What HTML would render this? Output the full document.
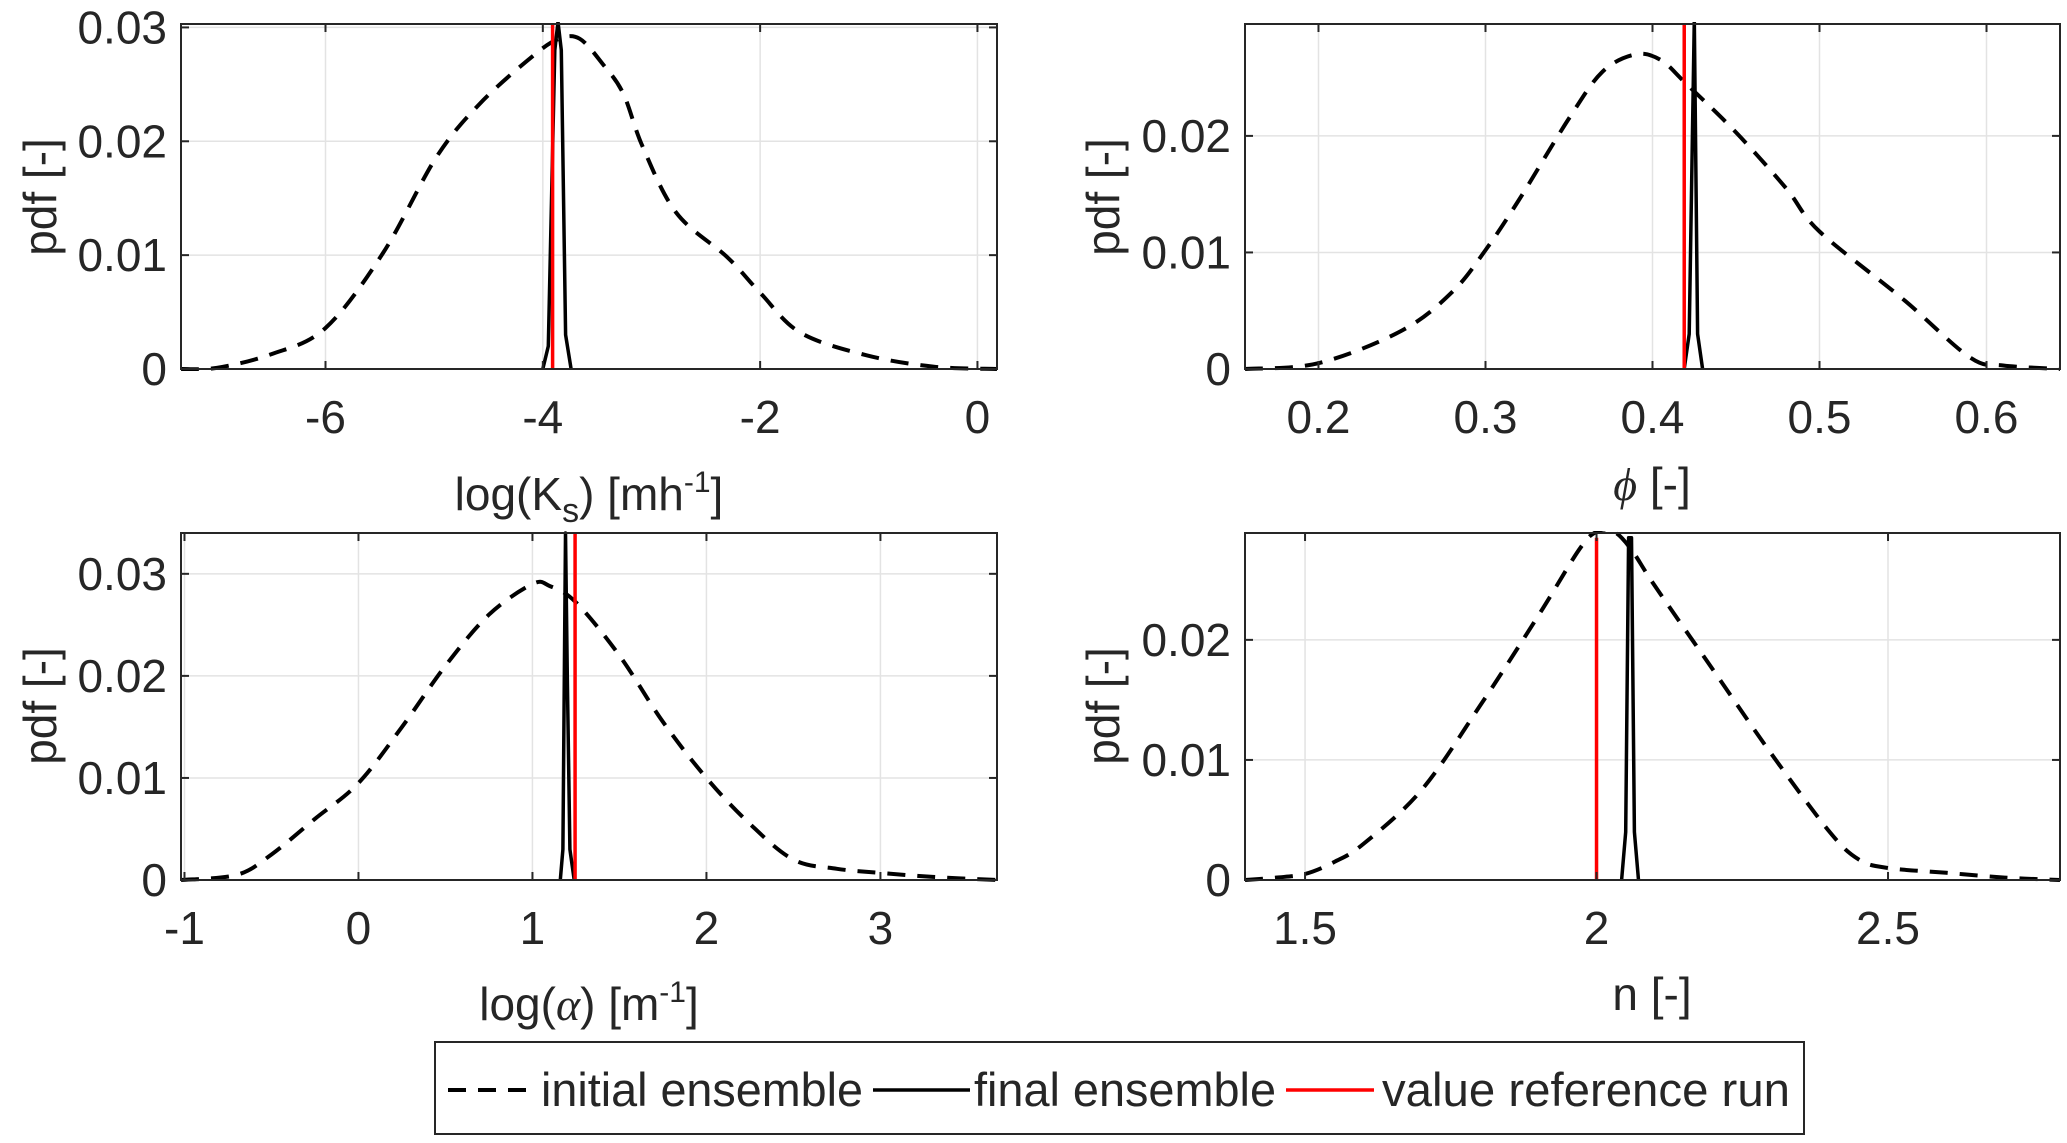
<!DOCTYPE html>
<html><head><meta charset="utf-8"><style>
html,body{margin:0;padding:0;background:#fff;}
svg{display:block;}
text{font-family:"Liberation Sans",sans-serif;fill:#262626;}
</style></head><body>
<svg id="s" width="2067" height="1143" viewBox="0 0 2067 1143" xmlns="http://www.w3.org/2000/svg">
<rect width="2067" height="1143" fill="#fff"/>
<g id="g"></g>
<text x="589" y="510" font-size="46" text-anchor="middle">log(K<tspan font-size="34" dy="12">s</tspan><tspan dy="-12">) [mh</tspan><tspan font-size="30" dy="-18">-1</tspan><tspan dy="18">]</tspan></text>
<text x="1652" y="500" font-size="46" text-anchor="middle"><tspan font-family="Liberation Serif" font-style="italic">ϕ</tspan> [-]</text>
<text x="589" y="1020" font-size="46" text-anchor="middle">log(<tspan font-family="Liberation Serif" font-style="italic">α</tspan>) [m<tspan font-size="30" dy="-18">-1</tspan><tspan dy="18">]</tspan></text>
<text x="1652" y="1010" font-size="46" text-anchor="middle">n [-]</text>
<text transform="translate(56,197) rotate(-90)" font-size="46" text-anchor="middle">pdf [-]</text>
<text transform="translate(1119,197) rotate(-90)" font-size="46" text-anchor="middle">pdf [-]</text>
<text transform="translate(56,706) rotate(-90)" font-size="46" text-anchor="middle">pdf [-]</text>
<text transform="translate(1119,706) rotate(-90)" font-size="46" text-anchor="middle">pdf [-]</text>
<rect x="435" y="1042" width="1369" height="92" fill="#fff" stroke="#262626" stroke-width="2"/>
<line x1="448" y1="1090" x2="537" y2="1090" stroke="#000" stroke-width="4" stroke-dasharray="18,12"/>
<text x="541" y="1106" font-size="47" textLength="322" lengthAdjust="spacingAndGlyphs">initial ensemble</text>
<line x1="873" y1="1090" x2="970" y2="1090" stroke="#000" stroke-width="3.5"/>
<text x="974" y="1106" font-size="47" textLength="302" lengthAdjust="spacingAndGlyphs">final ensemble</text>
<line x1="1286" y1="1090" x2="1374" y2="1090" stroke="#f00" stroke-width="3.5"/>
<text x="1382" y="1106" font-size="47" textLength="408" lengthAdjust="spacingAndGlyphs">value reference run</text>
</svg>
<script>
var NS="http://www.w3.org/2000/svg";var G=document.getElementById("g");
function el(t,a,p){var e=document.createElementNS(NS,t);for(var k in a)e.setAttribute(k,a[k]);(p||G).appendChild(e);return e;}
function path(pts){var d="M"+pts[0][0].toFixed(1)+","+pts[0][1].toFixed(1);
for(var i=0;i<pts.length-1;i++){var p0=pts[Math.max(i-1,0)],p1=pts[i],p2=pts[i+1],p3=pts[Math.min(i+2,pts.length-1)];
var c1=[p1[0]+(p2[0]-p0[0])/6,p1[1]+(p2[1]-p0[1])/6],c2=[p2[0]-(p3[0]-p1[0])/6,p2[1]-(p3[1]-p1[1])/6];
d+=" C"+c1[0].toFixed(1)+","+c1[1].toFixed(1)+" "+c2[0].toFixed(1)+","+c2[1].toFixed(1)+" "+p2[0].toFixed(1)+","+p2[1].toFixed(1);}return d;}
function plot(o){
var L=o.L,R=o.R,T=o.T,B=o.B;
var X=function(v){return L+(v-o.x0)/(o.x1-o.x0)*(R-L);};
var Y=function(v){return B-(v-0)/(o.y1)*(B-T);};
var cid="c"+L+"_"+T;var cp=el("clipPath",{id:cid});el("rect",{x:L,y:T-2,width:R-L,height:B-T+4},cp);
o.xt.forEach(function(v){var x=X(v);el("line",{x1:x,y1:T,x2:x,y2:B,stroke:"#e3e3e3","stroke-width":1.5});});
o.yt.forEach(function(v){var y=Y(v);if(v>0)el("line",{x1:L,y1:y,x2:R,y2:y,stroke:"#e3e3e3","stroke-width":1.5});});
var g=el("g",{"clip-path":"url(#"+cid+")"});
el("path",{d:path(o.d.map(function(p){return [X(p[0]),Y(p[1])];})),fill:"none",stroke:"#000","stroke-width":4,"stroke-dasharray":"18,12"},g);
el("path",{d:"M"+o.f.map(function(p){return X(p[0]).toFixed(1)+","+Y(p[1]).toFixed(1);}).join(" L"),fill:"none",stroke:"#000","stroke-width":3.5,"stroke-linejoin":"round"},g);
el("line",{x1:X(o.r),y1:B,x2:X(o.r),y2:Y(o.rt),stroke:"#f00","stroke-width":3.5},g);
el("rect",{x:L,y:T,width:R-L,height:B-T,fill:"none",stroke:"#262626","stroke-width":2});
o.xt.forEach(function(v){var x=X(v);el("line",{x1:x,y1:B,x2:x,y2:B-8,stroke:"#262626","stroke-width":2});el("line",{x1:x,y1:T,x2:x,y2:T+8,stroke:"#262626","stroke-width":2});
var t=el("text",{x:x,y:B+64,"font-size":46,"text-anchor":"middle"});t.textContent=o.xl(v);});
o.yt.forEach(function(v){var y=Y(v);el("line",{x1:L,y1:y,x2:L+8,y2:y,stroke:"#262626","stroke-width":2});el("line",{x1:R,y1:y,x2:R-8,y2:y,stroke:"#262626","stroke-width":2});
var t=el("text",{x:L-14,y:y+16,"font-size":46,"text-anchor":"end"});t.textContent=v==0?"0":v.toFixed(2);});
}
plot({L:181,R:997,T:24,B:369,x0:-7.33,x1:0.18,y1:0.0303,xt:[-6,-4,-2,0],yt:[0,0.01,0.02,0.03],xl:function(v){return String(v);},
d:[[-7.33,0],[-7,0.0001],[-6.5,0.0013],[-6,0.0036],[-5.47,0.0102],[-4.98,0.0186],[-4.58,0.0233],[-4.09,0.0275],[-3.85,0.029],[-3.66,0.029],[-3.45,0.0268],[-3.26,0.0242],[-3.08,0.0195],[-2.77,0.0137],[-2.3,0.0098],[-2.0,0.0067],[-1.63,0.0032],[-1.02,0.0012],[-0.4,0.0002],[0.18,0]],
f:[[-4.0,0],[-3.95,0.002],[-3.89,0.028],[-3.86,0.0305],[-3.83,0.028],[-3.79,0.003],[-3.74,0]],r:-3.91,rt:0.0303});
plot({L:1245,R:2060,T:24,B:369,x0:0.156,x1:0.644,y1:0.0296,xt:[0.2,0.3,0.4,0.5,0.6],yt:[0,0.01,0.02],xl:function(v){return v.toFixed(1);},
d:[[0.156,0],[0.2,0.0005],[0.25,0.0033],[0.28,0.0066],[0.3,0.0102],[0.32,0.0145],[0.35,0.0215],[0.37,0.0255],[0.39,0.027],[0.405,0.0265],[0.42,0.0245],[0.45,0.0203],[0.48,0.0155],[0.5,0.0118],[0.55,0.006],[0.59,0.001],[0.61,0.0003],[0.644,0]],
f:[[0.419,0],[0.422,0.003],[0.425,0.03],[0.427,0.003],[0.43,0]],r:0.419,rt:0.0296});
plot({L:181,R:997,T:533,B:880,x0:-1.02,x1:3.67,y1:0.034,xt:[-1,0,1,2,3],yt:[0,0.01,0.02,0.03],xl:function(v){return String(v);},
d:[[-1.02,0],[-0.7,0.0005],[-0.5,0.0025],[-0.25,0.006],[0,0.0095],[0.25,0.015],[0.5,0.021],[0.75,0.026],[1.0,0.029],[1.1,0.0288],[1.25,0.0272],[1.5,0.022],[1.75,0.0155],[2.0,0.01],[2.25,0.0055],[2.5,0.002],[2.75,0.0011],[3,0.0007],[3.3,0.0003],[3.67,0]],
f:[[1.16,0],[1.175,0.003],[1.19,0.034],[1.2,0.02],[1.215,0.003],[1.24,0]],r:1.245,rt:0.034});
plot({L:1245,R:2060,T:533,B:880,x0:1.397,x1:2.795,y1:0.0289,xt:[1.5,2,2.5],yt:[0,0.01,0.02],xl:function(v){return String(v);},
d:[[1.397,0],[1.45,0.0002],[1.5,0.0005],[1.55,0.0015],[1.6,0.003],[1.7,0.0075],[1.8,0.0145],[1.9,0.022],[1.97,0.0275],[2.0,0.029],[2.03,0.029],[2.06,0.0275],[2.1,0.0245],[2.2,0.0175],[2.3,0.0105],[2.4,0.004],[2.45,0.0017],[2.5,0.001],[2.6,0.0006],[2.7,0.0002],[2.795,0]],
f:[[2.043,0],[2.05,0.004],[2.055,0.0285],[2.06,0.0285],[2.065,0.004],[2.072,0]],r:2.0,rt:0.0285});
</script>
</body></html>
